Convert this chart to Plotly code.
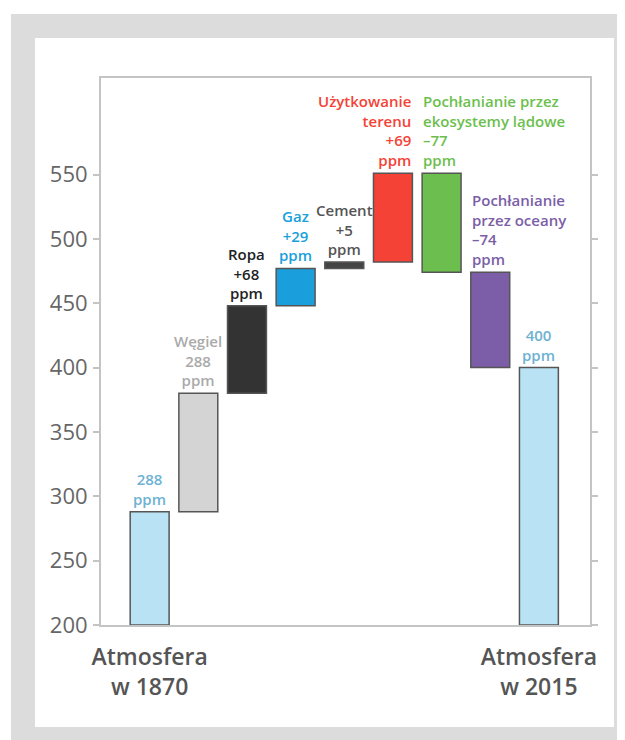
import plotly.graph_objects as go

# ---- data ----
categories = ["Atmosfera w 1870", "Węgiel", "Ropa", "Gaz", "Cement",
              "Użytkowanie terenu", "Pochłanianie przez ekosystemy lądowe",
              "Pochłanianie przez oceany", "Atmosfera w 2015"]
kinds = ["total", "delta", "delta", "delta", "delta", "delta", "delta", "delta", "total"]
values = [288, 92, 68, 29, 5, 69, -77, -74, 400]
bar_colors = ["#b9e3f5", "#d4d4d4", "#333333", "#1a9fdc", "#444444",
              "#f44336", "#6cbf4e", "#7b5ea7", "#b9e3f5"]
label_texts = ["288<br>ppm", "Węgiel<br>288<br>ppm", "Ropa<br>+68<br>ppm", "Gaz<br>+29<br>ppm",
               "Cement<br>+5<br>ppm", "Użytkowanie<br>terenu<br>+69<br>ppm",
               "Pochłanianie przez<br>ekosystemy lądowe<br>–77<br>ppm",
               "Pochłanianie<br>przez oceany<br>–74<br>ppm", "400<br>ppm"]
label_colors = ["#6db2d3", "#aaaaaa", "#222222", "#1a9fdc", "#555555",
                "#f44336", "#6cbf4e", "#7b5ea7", "#6db2d3"]
label_align = ["center", "center", "center", "center", "center", "right", "left", "left", "center"]
x_ticktext = ["Atmosfera<br>w 1870", "", "", "", "", "", "", "", "Atmosfera<br>w 2015"]
y_ticks = [200, 250, 300, 350, 400, 450, 500, 550]

# ---- compute floating bars ----
bases, heights = [], []
running = 0
for k, v in zip(kinds, values):
    if k == "total":
        bases.append(200)
        heights.append(v - 200)
        running = v
    else:
        bases.append(min(running, running + v))
        heights.append(abs(v))
        running += v

xs = list(range(len(categories)))
FONT = "Open Sans"

fig = go.Figure()
fig.add_trace(go.Bar(
    x=xs, y=heights, base=bases, width=0.8,
    marker=dict(color=bar_colors, line=dict(color="#555555", width=1.5)),
    hoverinfo="skip", showlegend=False,
))

annotations = []
for i, (txt, col, al) in enumerate(zip(label_texts, label_colors, label_align)):
    top = bases[i] + heights[i]
    if al == "center":
        xpos, xanchor = xs[i], "center"
    elif al == "right":
        xpos, xanchor = xs[i] + 0.4, "right"
    else:
        xpos, xanchor = xs[i] - 0.4, "left"
    # the ocean label sits beside the land bar's bottom edge
    yval = bases[6] if i == 7 else top
    annotations.append(dict(
        x=xpos, y=yval, xref="x", yref="y",
        text=txt, showarrow=False, align=al, xanchor=xanchor, yanchor="bottom",
        yshift=2, borderpad=0,
        font=dict(family=FONT, size=15, color=col, weight=600),
    ))

fig.update_layout(
    width=617, height=732,
    margin=dict(l=93, r=35, t=70, b=115),
    paper_bgcolor="white", plot_bgcolor="white",
    annotations=annotations,
    shapes=[
        dict(type="rect", xref="paper", yref="paper",
             x0=-0.184, x1=1.2, y0=-0.3, y1=1.117,
             fillcolor="#dcdcdc", line=dict(width=0), layer="below"),
        dict(type="rect", xref="paper", yref="paper",
             x0=-0.135, x1=1.049, y0=-0.1865, y1=1.073,
             fillcolor="white", line=dict(width=0), layer="below"),
    ],
    xaxis=dict(range=[-1.0, 9.05], tickvals=xs, ticktext=x_ticktext,
               showline=True, mirror=True, linecolor="#c4c4c4", linewidth=2,
               showgrid=False, zeroline=False, ticks="",
               tickfont=dict(family=FONT, size=23, color="#555555", weight=600),
               ticklabelstandoff=10),
    yaxis=dict(range=[200, 625], tickvals=y_ticks,
               showline=True, mirror="allticks", linecolor="#c4c4c4", linewidth=2,
               showgrid=False, zeroline=False, ticks="outside", ticklen=6,
               tickcolor="#c4c4c4", tickwidth=1.5,
               tickfont=dict(family=FONT, size=22, color="#666666"),
               ticklabelstandoff=1),
)

fig.write_html("out.html")
